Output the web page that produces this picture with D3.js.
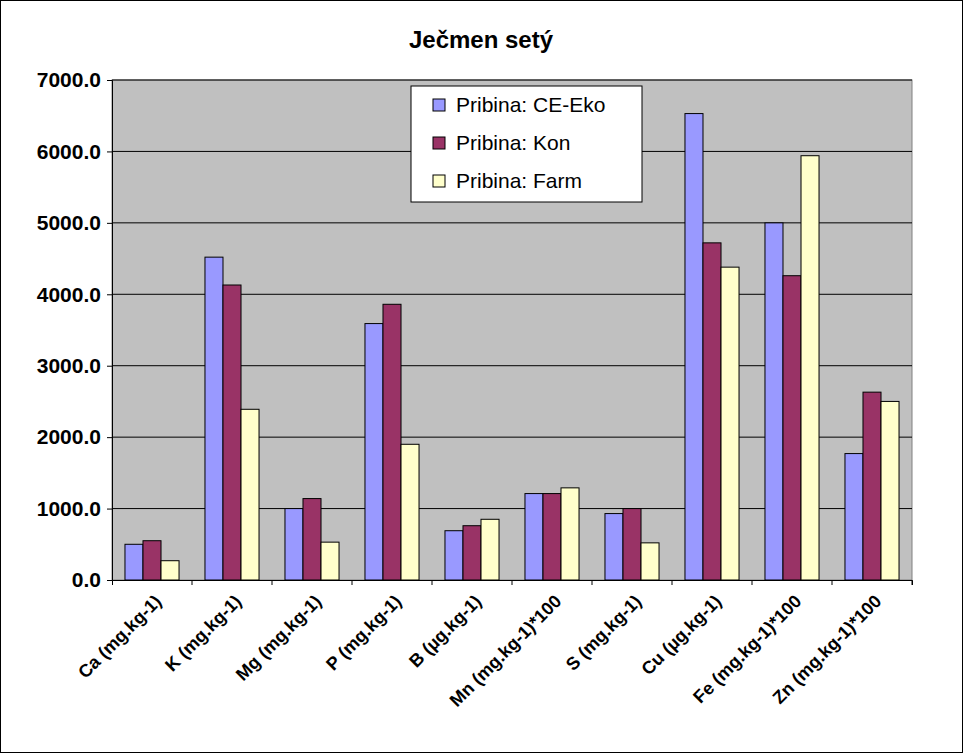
<!DOCTYPE html><html><head><meta charset="utf-8"><script src="https://cdn.jsdelivr.net/npm/d3@7"></script>
<style>body{margin:0;background:#fff}text{font-family:"Liberation Sans",Arial,sans-serif}</style></head><body>
<script>
const categories=["Ca (mg.kg-1)","K (mg.kg-1)","Mg (mg.kg-1)","P (mg.kg-1)","B (µg.kg-1)","Mn (mg.kg-1)*100","S (mg.kg-1)","Cu (µg.kg-1)","Fe (mg.kg-1)*100","Zn (mg.kg-1)*100"];
const seriesNames=["Pribina: CE-Eko","Pribina: Kon","Pribina: Farm"];
const ceEko=[500,4520,1000,3590,690,1210,930,6530,5000,1770];
const kon=[550,4130,1140,3860,760,1210,1000,4720,4260,2630];
const farm=[270,2390,530,1900,850,1290,520,4380,5940,2500];
const yTicks=[0,1000,2000,3000,4000,5000,6000,7000];
const colors=["#9999ff","#993366","#ffffcc"];
const series=[ceEko,kon,farm];
const W=964,H=754,L=112,R=912,T=80,B=580;
const svg=d3.select("body").append("svg").attr("width",W).attr("height",H);
svg.append("rect").attr("x",0.5).attr("y",0.5).attr("width",W-2).attr("height",H-2).attr("fill","#fff").attr("stroke","#000");
const x=d3.scaleBand().domain(categories).range([L,R]);
const xs=d3.scaleBand().domain([0,1,2]).range([0,x.bandwidth()]).paddingOuter(0.72);
const y=d3.scaleLinear().domain([0,7000]).range([B,T]);
svg.append("rect").attr("x",L).attr("y",T).attr("width",R-L).attr("height",B-T).attr("fill","#c0c0c0").attr("stroke","#808080");
svg.append("g").selectAll("line").data(yTicks.slice(1)).join("line").attr("x1",L).attr("x2",R).attr("y1",d=>y(d)).attr("y2",d=>y(d)).attr("stroke","#000");
series.forEach((s,i)=>{svg.append("g").selectAll("rect").data(s).join("rect")
 .attr("x",(d,j)=>x(categories[j])+xs(i)).attr("width",xs.bandwidth()).attr("y",d=>y(d)).attr("height",d=>B-y(d))
 .attr("fill",colors[i]).attr("stroke","#000").attr("stroke-width",1);});
const ya=svg.append("g").attr("transform",`translate(${L},0)`).call(d3.axisLeft(y).tickValues(yTicks).tickFormat(d3.format(".1f")).tickSize(5).tickPadding(6));
ya.attr("font-size",null).attr("font-family",null);
ya.selectAll("text").style("font-size","21px").style("font-weight","bold").style("font-family","Liberation Sans,Arial");
ya.select(".domain").attr("stroke","#000");
const xa=svg.append("g").attr("transform",`translate(0,${B})`).call(d3.axisBottom(x).tickSize(5).tickFormat(d=>d));
xa.attr("font-size",null).attr("font-family",null);
xa.selectAll(".tick line").attr("transform",`translate(${x.bandwidth()/2},0)`);
xa.selectAll("text").style("font-size","18px").style("font-weight","bold").style("font-family","Liberation Sans,Arial")
 .attr("text-anchor","end").attr("transform","translate(6,18) rotate(-45)").attr("dy","0.35em").attr("y",0).attr("x",0);
svg.append("text").attr("x",481).attr("y",48).attr("text-anchor","middle").style("font-size","24px").attr("font-weight","bold").text("Ječmen setý");
const lg=svg.append("g");
lg.append("rect").attr("x",411).attr("y",86).attr("width",231).attr("height",116).attr("fill","#fff").attr("stroke","#000");
seriesNames.forEach((n,i)=>{const yy=106+i*38;
 lg.append("rect").attr("x",433).attr("y",yy-7).attr("width",12).attr("height",12).attr("fill",colors[i]).attr("stroke","#000");
 lg.append("text").attr("x",456).attr("y",yy+6).style("font-size","21px").text(n);});
</script></body></html>
